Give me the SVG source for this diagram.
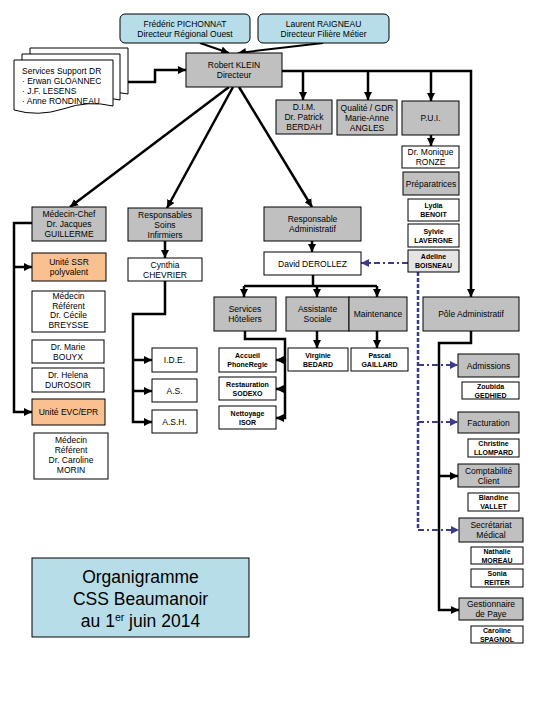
<svg xmlns="http://www.w3.org/2000/svg" width="540" height="720" viewBox="0 0 540 720">
<style>
.box{stroke:#000;stroke-width:1}
.g{fill:#c0c0c0}
.w{fill:#fff}
.o{fill:#fac090}
.b{fill:#b7dde8}
.lg{fill:#e4e4e4}
text{font-family:"Liberation Sans",Arial,sans-serif;font-size:8.5px;text-anchor:middle;fill:#000}
text.sm{font-size:7px;font-weight:bold}
text.l{text-anchor:start}
text.title{font-size:17.5px}
.conn{fill:none;stroke:#000;stroke-width:2.5}
.thin{stroke-width:2}
.dot{fill:none;stroke:#3c3c8c;stroke-width:2.5;stroke-dasharray:4 2}
.dd{fill:none;stroke:#3c3c8c;stroke-width:2;stroke-dasharray:6 3 2 3}
</style>
<defs>
<marker id="ah" markerUnits="userSpaceOnUse" markerWidth="8" markerHeight="8" refX="8" refY="4" orient="auto"><path d="M0,0 L8,4 L0,8 Z" fill="#000"/></marker>
<marker id="ahb" markerUnits="userSpaceOnUse" markerWidth="8" markerHeight="8" refX="8" refY="4" orient="auto"><path d="M0,0 L8,4 L0,8 Z" fill="#3c3c8c"/></marker>
</defs>
<rect width="540" height="720" fill="#fff"/>

<g id="connectors">
<path class="conn thin" d="M200,43 L229,53" marker-end="url(#ah)"/>
<path class="conn thin" d="M323,43 L238,53" marker-end="url(#ah)"/>
<path class="conn" d="M128,82 H155 V70 H186" marker-end="url(#ah)"/>
<path class="conn" d="M282,71 H471 V297" marker-end="url(#ah)"/>
<path class="conn" d="M303,71 V100" marker-end="url(#ah)"/>
<path class="conn" d="M368,71 V100" marker-end="url(#ah)"/>
<path class="conn" d="M431,71 V101" marker-end="url(#ah)"/>
<path class="conn" d="M431,135 V146" marker-end="url(#ah)"/>
<path class="conn" d="M229,87 L70,207" marker-end="url(#ah)"/>
<path class="conn" d="M233,87 L167,208" marker-end="url(#ah)"/>
<path class="conn" d="M239,87 L312,207" marker-end="url(#ah)"/>
<path class="conn" d="M32,223 H14 V412 H32" marker-end="url(#ah)"/>
<path class="conn" d="M14,267 H32" marker-end="url(#ah)"/>
<path class="conn" d="M165,241 V258" marker-end="url(#ah)"/>
<path class="conn" d="M165,281 V314 H133 V422 H152" marker-end="url(#ah)"/>
<path class="conn" d="M133,360 H152" marker-end="url(#ah)"/>
<path class="conn" d="M133,391 H152" marker-end="url(#ah)"/>
<path class="conn" d="M312,241 V252" marker-end="url(#ah)"/>
<path class="conn" d="M313,275 V286 M244,286 H377"/>
<path class="conn" d="M244,286 V297" marker-end="url(#ah)"/>
<path class="conn" d="M317,286 V297" marker-end="url(#ah)"/>
<path class="conn" d="M377,286 V297" marker-end="url(#ah)"/>
<path class="conn" d="M245,331 V339 H285 V418 H276" marker-end="url(#ah)"/>
<path class="conn" d="M285,360 H276" marker-end="url(#ah)"/>
<path class="conn" d="M285,389 H276" marker-end="url(#ah)"/>
<path class="conn" d="M317,331 V348" marker-end="url(#ah)"/>
<path class="conn" d="M377,331 V348" marker-end="url(#ah)"/>
<path class="conn" d="M471,331 V343 H439 V610 H459" marker-end="url(#ah)"/>
<path class="conn" d="M439,476 H458" marker-end="url(#ah)"/>
<path class="dd" d="M408,263 H361" marker-end="url(#ahb)"/>
<path class="dot" d="M418,272 V530"/>
<path class="dd" d="M418,365 H458" marker-end="url(#ahb)"/>
<path class="dd" d="M418,422 H458" marker-end="url(#ahb)"/>
<path class="dd" d="M418,530 H459" marker-end="url(#ahb)"/>
</g>

<g id="pichonnat"><rect class="box b" x="120" y="14" width="130" height="29" rx="5"/><text x="185" y="26.5">Frédéric PICHONNAT</text><text x="185" y="36.5">Directeur Régional Ouest</text></g>
<g id="raigneau"><rect class="box b" x="258" y="14" width="131" height="29" rx="5"/><text x="323.5" y="26.5">Laurent RAIGNEAU</text><text x="323.5" y="36.5">Directeur Filière Métier</text></g>
<g id="klein"><rect class="box g" x="186" y="53" width="96" height="34"/><text x="234" y="68">Robert KLEIN</text><text x="234" y="78">Directeur</text></g>
<g id="support">
<path class="box w" d="M30,48 H128 V94 Q110,90 90,96 L30,96 Z"/>
<path class="box w" d="M22,54 H120 V100 Q100,95 80,102 L22,102 Z"/>
<path class="box w" d="M14,60 H113 V106 Q88,100 63,109 Q38,117 14,110 Z"/>
<text class="l" x="22" y="74">Services Support DR</text>
<text class="l" x="22" y="84">· Erwan GLOANNEC</text>
<text class="l" x="22" y="94">· J.F. LESENS</text>
<text class="l" x="22" y="103.5">· Anne RONDINEAU</text>
</g>
<g id="dim"><rect class="box g" x="276" y="100" width="56" height="34"/><text x="304" y="110">D.I.M.</text><text x="304" y="120">Dr. Patrick</text><text x="304" y="130">BERDAH</text></g>
<g id="qualite"><rect class="box g" x="337" y="100" width="60" height="35"/><text x="367" y="110.5">Qualité / GDR</text><text x="367" y="120.5">Marie-Anne</text><text x="367" y="130.5">ANGLES</text></g>
<g id="pui"><rect class="box g" x="402" y="101" width="57" height="34"/><text x="430.5" y="121">P.U.I.</text></g>
<g id="ronze"><rect class="box w" x="402" y="146" width="57" height="22"/><text x="430.5" y="155">Dr. Monique</text><text x="430.5" y="165">RONZE</text></g>
<g id="preparatrices"><rect class="box g" x="403" y="172" width="56" height="23"/><text x="431" y="186.5">Préparatrices</text></g>
<g id="benoit"><rect class="box w" x="408" y="199" width="51" height="22"/><text class="sm" x="433.5" y="208">Lydia</text><text class="sm" x="433.5" y="217">BENOIT</text></g>
<g id="lavergne"><rect class="box w" x="408" y="224" width="51" height="23"/><text class="sm" x="433.5" y="233.5">Sylvie</text><text class="sm" x="433.5" y="242.5">LAVERGNE</text></g>
<g id="boisneau"><rect class="box lg" x="408" y="250" width="51" height="22"/><text class="sm" x="433.5" y="259">Adeline</text><text class="sm" x="433.5" y="268">BOISNEAU</text></g>

<g id="medecin-chef"><rect class="box g" x="32" y="207" width="74" height="34"/><text x="69" y="217">Médecin-Chef</text><text x="69" y="227">Dr. Jacques</text><text x="69" y="237">GUILLERME</text></g>
<g id="ssr"><rect class="box o" x="32" y="253" width="74" height="28"/><text x="69" y="265">Unité SSR</text><text x="69" y="275">polyvalent</text></g>
<g id="breysse"><rect class="box w" x="32" y="291" width="73" height="41"/><text x="68.5" y="299">Médecin</text><text x="68.5" y="308.5">Référent</text><text x="68.5" y="318">Dr. Cécile</text><text x="68.5" y="327.5">BREYSSE</text></g>
<g id="bouyx"><rect class="box w" x="32" y="340" width="72" height="23"/><text x="68" y="349.5">Dr. Marie</text><text x="68" y="359.5">BOUYX</text></g>
<g id="durosoir"><rect class="box w" x="32" y="368" width="72" height="24"/><text x="68" y="378">Dr. Helena</text><text x="68" y="388">DUROSOIR</text></g>
<g id="evc"><rect class="box o" x="32" y="399" width="73" height="26"/><text x="68.5" y="415">Unité EVC/EPR</text></g>
<g id="morin"><rect class="box w" x="34" y="433" width="74" height="46"/><text x="71" y="443">Médecin</text><text x="71" y="453">Référent</text><text x="71" y="463">Dr. Caroline</text><text x="71" y="473">MORIN</text></g>

<g id="soins"><rect class="box g" x="128" y="208" width="74" height="33"/><text x="165" y="217.5">Responsables</text><text x="165" y="227.5">Soins</text><text x="165" y="237.5">Infirmiers</text></g>
<g id="chevrier"><rect class="box w" x="128" y="258" width="74" height="23"/><text x="165" y="267.5">Cynthia</text><text x="165" y="277.5">CHEVRIER</text></g>
<g id="ide"><rect class="box w" x="152" y="348" width="45" height="24"/><text x="174.5" y="363">I.D.E.</text></g>
<g id="as"><rect class="box w" x="152" y="379" width="45" height="23"/><text x="174.5" y="393.5">A.S.</text></g>
<g id="ash"><rect class="box w" x="152" y="410" width="45" height="23"/><text x="174.5" y="424.5">A.S.H.</text></g>

<g id="resp-admin"><rect class="box g" x="264" y="207" width="97" height="34"/><text x="312.5" y="222">Responsable</text><text x="312.5" y="232">Administratif</text></g>
<g id="derollez"><rect class="box w" x="264" y="252" width="97" height="23"/><text x="312.5" y="266.5">David DEROLLEZ</text></g>
<g id="hoteliers"><rect class="box g" x="214" y="297" width="62" height="34"/><text x="245" y="312">Services</text><text x="245" y="322">Hôteliers</text></g>
<g id="assistante"><rect class="box g" x="286" y="297" width="63" height="34"/><text x="317.5" y="312">Assistante</text><text x="317.5" y="322">Sociale</text></g>
<g id="maintenance"><rect class="box g" x="349" y="297" width="58" height="34"/><text x="378" y="317">Maintenance</text></g>
<g id="accueil"><rect class="box w" x="219" y="348" width="57" height="24"/><text class="sm" x="247.5" y="358">Accueil</text><text class="sm" x="247.5" y="367">PhoneRegie</text></g>
<g id="restauration"><rect class="box w" x="219" y="377" width="57" height="23"/><text class="sm" x="247.5" y="386.5">Restauration</text><text class="sm" x="247.5" y="395.5">SODEXO</text></g>
<g id="nettoyage"><rect class="box w" x="219" y="406" width="57" height="23"/><text class="sm" x="247.5" y="415.5">Nettoyage</text><text class="sm" x="247.5" y="424.5">ISOR</text></g>
<g id="bedard"><rect class="box w" x="288" y="348" width="60" height="23"/><text class="sm" x="318" y="357.5">Virginie</text><text class="sm" x="318" y="366.5">BEDARD</text></g>
<g id="gaillard"><rect class="box w" x="351" y="348" width="57" height="23"/><text class="sm" x="379.5" y="357.5">Pascal</text><text class="sm" x="379.5" y="366.5">GAILLARD</text></g>

<g id="pole-admin"><rect class="box g" x="423" y="297" width="96" height="34"/><text x="471" y="317">Pôle Administratif</text></g>
<g id="admissions"><rect class="box g" x="458" y="354" width="61" height="23"/><text x="488.5" y="368.5">Admissions</text></g>
<g id="gedhied"><rect class="box w" x="462" y="382" width="57" height="17"/><text class="sm" x="490.5" y="388.5">Zoubida</text><text class="sm" x="490.5" y="397.5">GEDHIED</text></g>
<g id="facturation"><rect class="box g" x="458" y="412" width="61" height="21"/><text x="488.5" y="425.5">Facturation</text></g>
<g id="llompard"><rect class="box w" x="468" y="439" width="51" height="18"/><text class="sm" x="493.5" y="446">Christine</text><text class="sm" x="493.5" y="455">LLOMPARD</text></g>
<g id="comptabilite"><rect class="box g" x="458" y="464" width="61" height="23"/><text x="488.5" y="473.5">Comptabilité</text><text x="488.5" y="483.5">Client</text></g>
<g id="vallet"><rect class="box w" x="468" y="493" width="51" height="18"/><text class="sm" x="493.5" y="500">Blandine</text><text class="sm" x="493.5" y="509">VALLET</text></g>
<g id="secretariat"><rect class="box g" x="459" y="518" width="64" height="24"/><text x="491" y="528">Secrétariat</text><text x="491" y="538">Médical</text></g>
<g id="moreau"><rect class="box w" x="471" y="547" width="52" height="17"/><text class="sm" x="497" y="553.5">Nathalie</text><text class="sm" x="497" y="562.5">MOREAU</text></g>
<g id="reiter"><rect class="box w" x="471" y="569" width="52" height="18"/><text class="sm" x="497" y="576">Sonia</text><text class="sm" x="497" y="585">REITER</text></g>
<g id="paye"><rect class="box g" x="459" y="598" width="64" height="22"/><text x="491" y="607">Gestionnaire</text><text x="491" y="617">de Paye</text></g>
<g id="spagnol"><rect class="box w" x="471" y="626" width="52" height="17"/><text class="sm" x="497" y="632.5">Caroline</text><text class="sm" x="497" y="641.5">SPAGNOL</text></g>

<g id="title"><rect class="box b" x="32" y="558" width="217" height="79"/>
<text class="title" x="140.5" y="583">Organigramme</text>
<text class="title" x="140.5" y="605">CSS Beaumanoir</text>
<text class="title" x="140.5" y="627">au 1<tspan font-size="10.5px" dy="-6">er</tspan><tspan dy="6"> juin 2014</tspan></text>
</g>
</svg>
